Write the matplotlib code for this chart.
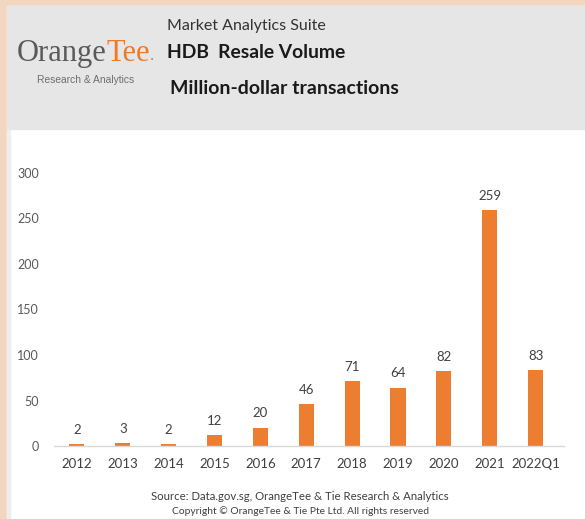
"""
HDB resale volume - million-dollar transactions, OrangeTee style card
"""

import matplotlib.pyplot as plt
from matplotlib.patches import Rectangle

categories = ['2012', '2013', '2014', '2015', '2016', '2017', '2018', '2019', '2020', '2021', '2022Q1']
volumes = [2, 3, 2, 12, 20, 46, 71, 64, 82, 259, 83]
y_ticks = [0, 50, 100, 150, 200, 250, 300]

W, H = 585, 519
BAR = '#ED7D31'
TEXT = '#404040'


def fx(px: float) -> float:
	return px / W


def fy(py: float) -> float:
	return 1 - py / H


def draw_card(fig: plt.Figure) -> None:
	fig.patches.append(Rectangle((0, 0), 1, 1, transform=fig.transFigure, color='#f2d6bf', zorder=-3))
	fig.patches.append(Rectangle((fx(7), 0), 1, fy(6), transform=fig.transFigure, color='white', zorder=-2))
	fig.patches.append(Rectangle((fx(7), 0), fx(3), fy(129), transform=fig.transFigure, color='#eeeeee', zorder=-1))
	fig.patches.append(Rectangle((fx(7), fy(129)), 1, fy(6) - fy(129), transform=fig.transFigure,
		color='#e6e6e6', zorder=-1))


def draw_header(fig: plt.Figure) -> None:
	# overlay axes only used to chain the logo pieces
	over = fig.add_axes([0, 0, 1, 1])
	over.set_axis_off()
	over.set_xlim(0, 1)
	over.set_ylim(0, 1)

	orange = over.text(fx(17), fy(68), 'Orange', family='Liberation Serif', fontsize=22, color='#5a5a5a',
		va='bottom')
	tee = over.annotate('Tee', xy=(1, 0), xycoords=orange, family='Liberation Serif', fontsize=22,
		color='#f07a23', va='bottom')
	over.annotate('.', xy=(1, 0), xycoords=tee, xytext=(0, 3), textcoords='offset points',
		family='Liberation Serif', fontsize=12, color='#f07a23', va='bottom')
	over.text(fx(86), fy(80), 'Research & Analytics', family='Liberation Sans', fontsize=7.4,
		color='#6f6f6f', ha='center', va='center')

	over.text(fx(167), fy(26), 'Market Analytics Suite', family='Lato', fontsize=11.5, color='#333333', va='center')
	over.text(fx(167), fy(53), 'HDB  Resale Volume', family='Lato', fontsize=13.9, weight='bold',
		color='#1a1a1a', va='center')
	over.text(fx(170), fy(88), 'Million-dollar transactions', family='Lato', fontsize=14, weight='bold',
		color='#1a1a1a', va='center')


def draw_chart(fig: plt.Figure) -> None:
	ax = fig.add_axes([fx(54), fy(446), fx(564) - fx(54), fy(173) - fy(446)])
	ax.set_facecolor('none')

	x = list(range(len(categories)))
	bars = ax.bar(x, volumes, width=0.33, color=BAR)
	ax.bar_label(bars, labels=[str(v) for v in volumes], padding=6, fontsize=9.5, color=TEXT, family='Lato')

	ax.set_xlim(-0.5, len(categories) - 0.38)
	ax.set_ylim(0, 300)
	ax.set_yticks(y_ticks)
	ax.set_xticks(x, categories)

	for side in ['top', 'right', 'left']:
		ax.spines[side].set_visible(False)
	ax.spines['bottom'].set_color('#d9d9d9')
	ax.spines['bottom'].set_linewidth(1)

	ax.tick_params(axis='both', length=0, labelsize=9, labelcolor='#595959')
	ax.tick_params(axis='x', pad=9, labelsize=9.5, labelcolor=TEXT)
	ax.tick_params(axis='y', pad=11)
	for label in ax.get_xticklabels() + ax.get_yticklabels():
		label.set_family('Lato')


def draw_footer(fig: plt.Figure) -> None:
	fig.text(fx(300), fy(497), 'Source: Data.gov.sg, OrangeTee & Tie Research & Analytics', family='Lato',
		fontsize=8.2, color=TEXT, ha='center', va='center')
	fig.text(fx(300), fy(511), 'Copyright © OrangeTee & Tie Pte Ltd. All rights reserved', family='Lato',
		fontsize=7.4, color=TEXT, ha='center', va='center')


def main() -> None:
	fig = plt.figure(figsize=(W / 100, H / 100), dpi=100)
	draw_card(fig)
	draw_chart(fig)
	draw_header(fig)
	draw_footer(fig)
	fig.savefig('out.png', dpi=100)


if __name__ == '__main__':
	main()
